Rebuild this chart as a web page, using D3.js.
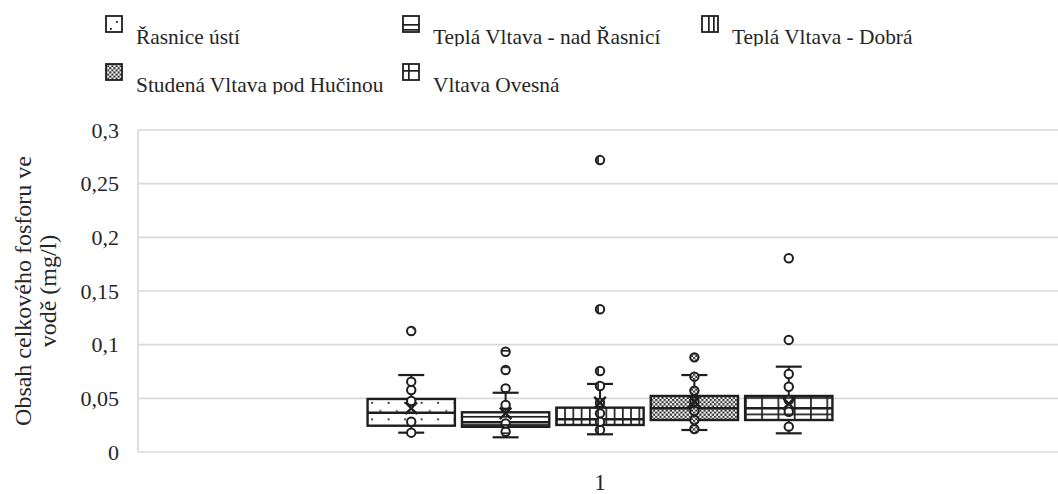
<!DOCTYPE html>
<html>
<head>
<meta charset="utf-8">
<script src="https://cdn.jsdelivr.net/npm/d3@7"></script>
<style>
  html, body { margin: 0; padding: 0; background: #fff; }
  svg { display: block; font-family: "Liberation Serif", "Times New Roman", serif; }
  svg text { font-family: "Liberation Serif", "Times New Roman", serif; }
</style>
</head>
<body>
<svg id="chart" width="1058" height="494"></svg>
<script>
// ---- data ----
const categories = ["1"];
const seriesNames = ["Řasnice ústí", "Teplá Vltava - nad Řasnicí", "Teplá Vltava - Dobrá", "Studená Vltava pod Hučinou", "Vltava Ovesná"];
const whiskerLow  = [0.0180, 0.0137, 0.0165, 0.0205, 0.0174];
const q1          = [0.0245, 0.0235, 0.0252, 0.0298, 0.0298];
const median      = [0.0366, 0.0277, 0.0305, 0.0407, 0.0407];
const q3          = [0.0494, 0.0370, 0.0413, 0.0522, 0.0522];
const whiskerHigh = [0.0717, 0.0552, 0.0634, 0.0717, 0.0795];
const means       = [0.0407, 0.0360, 0.0460, 0.0470, 0.0450];
const pointsS1 = [0.0180, 0.0282, 0.0475, 0.0578, 0.0655, 0.1127];
const pointsS2 = [0.0189, 0.0267, 0.0438, 0.0593, 0.0764, 0.0934];
const pointsS3 = [0.0205, 0.0282, 0.0360, 0.0460, 0.0615, 0.0755, 0.1330, 0.2720];
const pointsS4 = [0.0214, 0.0298, 0.0382, 0.0469, 0.0571, 0.0702, 0.0882];
const pointsS5 = [0.0236, 0.0375, 0.0484, 0.0608, 0.0727, 0.1044, 0.1805];
const yTicks = [0, 0.05, 0.1, 0.15, 0.2, 0.25, 0.3];
const yTickLabels = ["0", "0,05", "0,1", "0,15", "0,2", "0,25", "0,3"];
const yTitleLines = ["Obsah celkového fosforu ve", "vodě (mg/l)"];

const pointSets = [pointsS1, pointsS2, pointsS3, pointsS4, pointsS5];
const patternIds = ["pDots", "pHoriz", "pVert", "pCheck", "pGrid"];

const svg = d3.select("#chart");
const ink = "#1e1e1e";
const txt = "#262626";

// ---- patterns ----
const defs = svg.append("defs");
{
  const p = defs.append("pattern").attr("id", "pDots").attr("patternUnits", "userSpaceOnUse")
    .attr("x", 8.2).attr("y", 5.9).attr("width", 16.5).attr("height", 16.5);
  p.append("rect").attr("width", 16.5).attr("height", 16.5).attr("fill", "#fff");
  p.append("rect").attr("x", 0).attr("y", 0).attr("width", 1.8).attr("height", 1.8).attr("fill", ink);
  p.append("rect").attr("x", 8.25).attr("y", 8.25).attr("width", 1.8).attr("height", 1.8).attr("fill", ink);
}
{
  const p = defs.append("pattern").attr("id", "pHoriz").attr("patternUnits", "userSpaceOnUse")
    .attr("x", 0).attr("y", 415.9).attr("width", 8).attr("height", 8.25);
  p.append("rect").attr("width", 8).attr("height", 8.25).attr("fill", "#fff");
  p.append("rect").attr("x", 0).attr("y", 0).attr("width", 8).attr("height", 1.7).attr("fill", ink);
}
{
  const p = defs.append("pattern").attr("id", "pVert").attr("patternUnits", "userSpaceOnUse")
    .attr("x", 564.2).attr("y", 0).attr("width", 8.25).attr("height", 8);
  p.append("rect").attr("width", 8.25).attr("height", 8).attr("fill", "#fff");
  p.append("rect").attr("x", 0).attr("y", 0).attr("width", 1.7).attr("height", 8).attr("fill", ink);
}
{
  const p = defs.append("pattern").attr("id", "pCheck").attr("patternUnits", "userSpaceOnUse")
    .attr("x", 0).attr("y", 0).attr("width", 4.2).attr("height", 4.2);
  p.append("rect").attr("width", 4.2).attr("height", 4.2).attr("fill", "#fff");
  p.append("rect").attr("x", 0).attr("y", 0).attr("width", 2.1).attr("height", 2.1).attr("fill", "#333");
  p.append("rect").attr("x", 2.1).attr("y", 2.1).attr("width", 2.1).attr("height", 2.1).attr("fill", "#333");
}
{
  const p = defs.append("pattern").attr("id", "pGrid").attr("patternUnits", "userSpaceOnUse")
    .attr("x", 744.9).attr("y", 413.5).attr("width", 16.3).attr("height", 16.3);
  p.append("rect").attr("width", 16.3).attr("height", 16.3).attr("fill", "#fff");
  p.append("rect").attr("x", 0).attr("y", 0).attr("width", 1.7).attr("height", 16.3).attr("fill", ink);
  p.append("rect").attr("x", 0).attr("y", 0).attr("width", 16.3).attr("height", 1.7).attr("fill", ink);
}
// legend-only patterns (icon-scale tiles)
{
  const p = defs.append("pattern").attr("id", "lDots").attr("patternUnits", "userSpaceOnUse")
    .attr("x", 0).attr("y", 0).attr("width", 1058).attr("height", 100);
  p.append("rect").attr("width", 1058).attr("height", 100).attr("fill", "#fff");
  p.append("rect").attr("x", 116).attr("y", 21).attr("width", 1.8).attr("height", 1.8).attr("fill", ink);
  p.append("rect").attr("x", 110).attr("y", 28).attr("width", 1.8).attr("height", 1.8).attr("fill", ink);
}
{
  const p = defs.append("pattern").attr("id", "lHoriz").attr("patternUnits", "userSpaceOnUse")
    .attr("x", 0).attr("y", 0).attr("width", 1058).attr("height", 100);
  p.append("rect").attr("width", 1058).attr("height", 100).attr("fill", "#fff");
  p.append("rect").attr("x", 0).attr("y", 24).attr("width", 1058).attr("height", 1.7).attr("fill", ink);
  p.append("rect").attr("x", 0).attr("y", 29).attr("width", 1058).attr("height", 1.7).attr("fill", ink);
}
{
  const p = defs.append("pattern").attr("id", "lVert").attr("patternUnits", "userSpaceOnUse")
    .attr("x", 0).attr("y", 0).attr("width", 1058).attr("height", 100);
  p.append("rect").attr("width", 1058).attr("height", 100).attr("fill", "#fff");
  p.append("rect").attr("x", 708).attr("y", 0).attr("width", 1.7).attr("height", 100).attr("fill", ink);
  p.append("rect").attr("x", 713).attr("y", 0).attr("width", 1.7).attr("height", 100).attr("fill", ink);
}
{
  const p = defs.append("pattern").attr("id", "lGrid").attr("patternUnits", "userSpaceOnUse")
    .attr("x", 0).attr("y", 0).attr("width", 1058).attr("height", 100);
  p.append("rect").attr("width", 1058).attr("height", 100).attr("fill", "#fff");
  p.append("rect").attr("x", 408).attr("y", 0).attr("width", 1.7).attr("height", 100).attr("fill", ink);
  p.append("rect").attr("x", 0).attr("y", 70).attr("width", 1058).attr("height", 1.7).attr("fill", ink);
}
const legendPatternIds = ["lDots", "lHoriz", "lVert", "pCheck", "lGrid"];

// ---- scales ----
const plotLeft = 138, plotRight = 1062, plotTop = 130, plotBottom = 452;
const y = d3.scaleLinear().domain([0, 0.3]).range([plotBottom, plotTop]);
const x0 = d3.scaleBand().domain(categories).range([plotLeft, plotRight]).paddingInner(0).paddingOuter(0.479);
const x1 = d3.scaleBand().domain(seriesNames).range([0, x0.bandwidth()]).paddingInner(0.075).paddingOuter(0.0375);

// ---- gridlines ----
svg.append("g").selectAll("line").data(yTicks).join("line")
  .attr("x1", plotLeft).attr("x2", plotRight)
  .attr("y1", d => y(d)).attr("y2", d => y(d))
  .attr("stroke", "#d9d9d9").attr("stroke-width", 1.6);
svg.append("line").attr("x1", plotLeft).attr("x2", plotLeft)
  .attr("y1", plotTop).attr("y2", plotBottom)
  .attr("stroke", "#d9d9d9").attr("stroke-width", 1.6);

// ---- y tick labels ----
svg.append("g").selectAll("text").data(yTicks).join("text")
  .attr("x", 119).attr("y", d => y(d)).attr("dy", "0.35em")
  .attr("text-anchor", "end").attr("font-size", 22).attr("fill", txt)
  .text((d, i) => yTickLabels[i]);

// ---- y title ----
const yMid = (plotTop + plotBottom) / 2;
const tBase = [31, 56];
yTitleLines.forEach((t, i) => {
  svg.append("text")
    .attr("transform", `translate(${tBase[i]},${yMid}) rotate(-90)`)
    .attr("text-anchor", "middle").attr("font-size", 24).attr("fill", txt)
    .text(t);
});

// ---- category label ----
svg.append("g").selectAll("text").data(categories).join("text")
  .attr("x", d => x0(d) + x0.bandwidth() / 2).attr("y", 490)
  .attr("text-anchor", "middle").attr("font-size", 23).attr("fill", txt)
  .text(d => d);

// ---- boxes ----
const capW = 26;
const boxG = svg.append("g");
seriesNames.forEach((name, i) => {
  const bx = x0(categories[0]) + x1(name);
  const bw = x1.bandwidth();
  const cx = bx + bw / 2;
  const g = boxG.append("g");
  g.append("line").attr("x1", cx).attr("x2", cx).attr("y1", y(whiskerHigh[i])).attr("y2", y(q3[i]))
    .attr("stroke", ink).attr("stroke-width", 2);
  g.append("line").attr("x1", cx).attr("x2", cx).attr("y1", y(q1[i])).attr("y2", y(whiskerLow[i]))
    .attr("stroke", ink).attr("stroke-width", 2);
  [whiskerHigh[i], whiskerLow[i]].forEach(v => {
    g.append("line").attr("x1", cx - capW / 2).attr("x2", cx + capW / 2).attr("y1", y(v)).attr("y2", y(v))
      .attr("stroke", ink).attr("stroke-width", 2.2);
  });
  g.append("rect").attr("x", bx).attr("y", y(q3[i])).attr("width", bw).attr("height", y(q1[i]) - y(q3[i]))
    .attr("fill", `url(#${patternIds[i]})`).attr("stroke", ink).attr("stroke-width", 2.4);
  g.append("line").attr("x1", bx).attr("x2", bx + bw).attr("y1", y(median[i])).attr("y2", y(median[i]))
    .attr("stroke", ink).attr("stroke-width", 2.4);
  g.selectAll("circle").data(pointSets[i]).join("circle")
    .attr("cx", cx).attr("cy", d => y(d)).attr("r", 4.2)
    .attr("fill", `url(#${patternIds[i]})`).attr("stroke", ink).attr("stroke-width", 2);
  const my = y(means[i]), s = 5.8;
  g.append("path").attr("d", `M${cx - s},${my - s}L${cx + s},${my + s}M${cx - s},${my + s}L${cx + s},${my - s}`)
    .attr("stroke", ink).attr("stroke-width", 2.4).attr("fill", "none");
});

// ---- legend ----
const legendCols = [106, 403, 702];
const legendRows = [{ iconY: 16, base: 44, clip: 46.3 }, { iconY: 64, base: 92, clip: 94.3 }];
const legendLayout = [[0, 0], [0, 1], [0, 2], [1, 0], [1, 1]];
legendRows.forEach((r, ri) => {
  defs.append("clipPath").attr("id", "legClip" + ri)
    .append("rect").attr("x", 0).attr("y", r.clip - 40).attr("width", 1058).attr("height", 40);
});
const leg = svg.append("g");
seriesNames.forEach((name, i) => {
  const [ri, ci] = legendLayout[i];
  const r = legendRows[ri];
  const lx = legendCols[ci];
  leg.append("rect").attr("x", lx).attr("y", r.iconY).attr("width", 16).attr("height", 16)
    .attr("fill", `url(#${legendPatternIds[i]})`).attr("stroke", ink).attr("stroke-width", 1.8);
  leg.append("text").attr("x", lx + 30).attr("y", r.base)
    .attr("font-size", 21.4).attr("fill", txt)
    .attr("clip-path", `url(#legClip${ri})`)
    .text(name);
});
</script>
</body>
</html>
